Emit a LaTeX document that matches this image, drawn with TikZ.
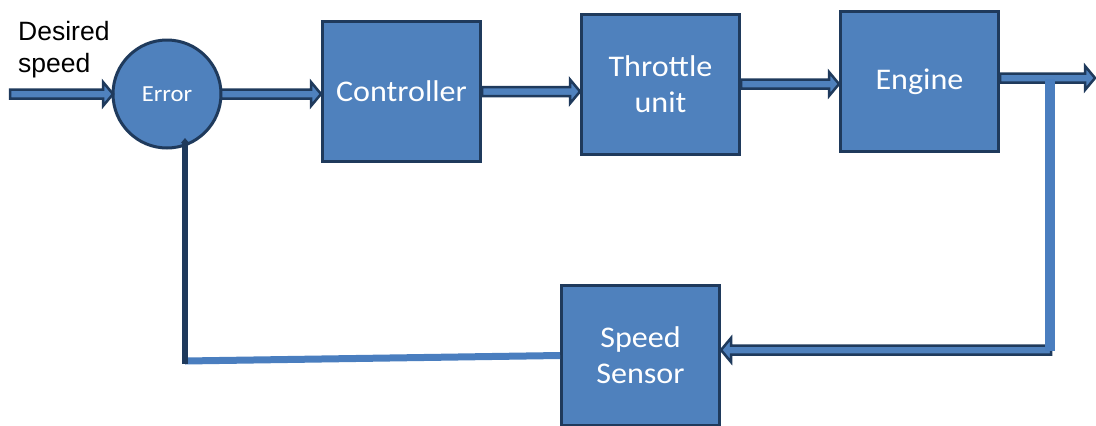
\documentclass[tikz,border=0pt]{standalone}
\usepackage{fontspec}
\setmainfont{Carlito}
\newfontfamily\boxfont[FakeStretch=1.07]{Carlito}
\newfontfamily\labelfont{Liberation Sans}
\usetikzlibrary{calc,arrows.meta}

\definecolor{boxblue}{HTML}{4F81BD}
\definecolor{boxedge}{HTML}{1F3A5C}
\definecolor{linkblue}{HTML}{4A7EBF}

% geometry of the outlined block arrows
\newcommand\shafthw{4.5pt}
\newcommand\headhw{12pt}
\newcommand\headlen{10pt}

% horizontal block arrow from #2 to #3 (tip at #3)
\newcommand\blockarrow[3][]{%
  \draw[arrowbody,#1] let \p1=(#2), \p2=(#3), \n1={ifthenelse(\x2>\x1,1,-1)} in
    (\x1,\y1+\shafthw) -- (\x2-\n1*\headlen,\y1+\shafthw) -- (\x2-\n1*\headlen,\y1+\headhw)
    -- (\x2,\y1) -- (\x2-\n1*\headlen,\y1-\headhw) -- (\x2-\n1*\headlen,\y1-\shafthw)
    -- (\x1,\y1-\shafthw) -- cycle;}

\begin{document}
\begin{tikzpicture}[x=1pt,y=-1pt,
  block/.style={draw=boxedge, fill=boxblue, line width=3pt, minimum width=158pt,
    minimum height=140pt, text=white, align=center,
    font=\boxfont\fontsize{30}{36}\selectfont},
  sum/.style={circle, draw=boxedge, fill=boxblue, line width=3pt, minimum size=108pt,
    inner sep=0pt, outer sep=0pt, text=white, font=\boxfont\fontsize{23}{27}\selectfont},
  arrowbody/.style={draw=boxedge, fill=boxblue, line width=2.5pt, line join=miter},
  feedline/.style={draw=linkblue, line width=#1},
  returnline/.style={draw=boxedge, line width=6pt, -{Triangle[length=5pt,width=8pt]}}]

\useasboundingbox (0,0) rectangle (1096,426);

% blocks
\node[sum] (err) at (167,94) {Error};
\node[block] (ctrl) at (401.5,91.5) {Controller};
\node[block] (thr) at (660.5,84) {Throttle\\unit};
\node[block] (eng) at (919.5,81.5) {Engine};
\node[block] (sen) at (640.5,355.5) {Speed\\Sensor};

% input label
\node[anchor=north west, align=left, inner sep=0pt,
      font=\labelfont\fontsize{26.5}{32}\selectfont] (lbl) at (18,21) {Desired\\speed};

% path points
\coordinate (in) at (10,94);
\coordinate (out) at (1095,78);
\coordinate (tap) at (1050,79);
\coordinate (corner) at (1050,351);
\coordinate (turn) at (1051,350);
\coordinate (low) at (185,361);
\coordinate (lowend) at (185,364);
\coordinate (rise) at (185,138);

% forward path
\blockarrow{in}{in -| err.west}
\blockarrow{err.east}{err.east -| ctrl.west}
\blockarrow{ctrl.east}{ctrl.east -| thr.west}
\blockarrow{thr.east}{thr.east -| eng.west}
\blockarrow{eng.east |- out}{out}

% feedback path
\blockarrow{turn}{turn -| sen.east}
\draw[feedline=10pt] (tap) -- (corner);
\draw[feedline=7pt] (sen.west) -- (low);
\draw[returnline] (lowend) -- (rise);

\end{tikzpicture}
\end{document}
